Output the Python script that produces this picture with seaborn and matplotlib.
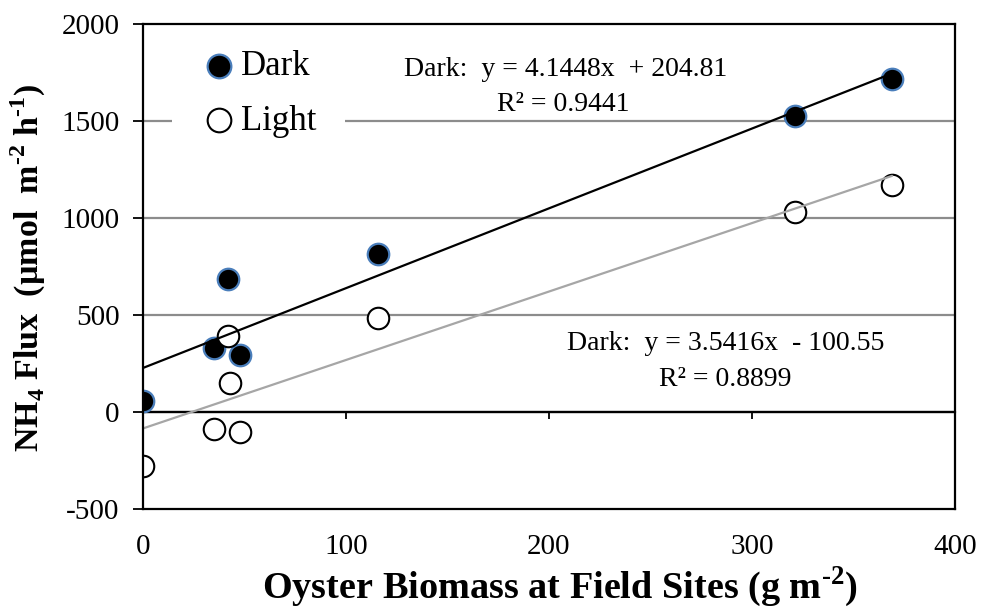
import numpy as np
import pandas as pd
import matplotlib
matplotlib.use("Agg")
import matplotlib.pyplot as plt
import seaborn as sns

# ---- data ----
dark_x = [0, 35, 42, 48, 116, 321, 369]
dark_y = [55, 328, 686, 292, 814, 1527, 1717]
light_x = [0, 35, 42, 43, 48, 116, 321, 369]
light_y = [-278, -88, 390, 150, -102, 485, 1031, 1171]

dark_eq = "Dark:  y = 4.1448x  + 204.81"
dark_r2 = "R² = 0.9441"
light_eq = "Dark:  y = 3.5416x  - 100.55"
light_r2 = "R² = 0.8899"

x_ticks = [0, 100, 200, 300, 400]
y_ticks = [-500, 0, 500, 1000, 1500, 2000]

dark_df = pd.DataFrame({"x": dark_x, "y": dark_y})
light_df = pd.DataFrame({"x": light_x, "y": light_y})

sns.set_style("white")
plt.rcParams["font.family"] = ["Liberation Serif", "DejaVu Serif"]
plt.rcParams["mathtext.fontset"] = "custom"
plt.rcParams["mathtext.rm"] = "Liberation Serif"
plt.rcParams["mathtext.bf"] = "Liberation Serif:bold"
plt.rcParams["text.color"] = "black"
plt.rcParams["axes.labelcolor"] = "black"
plt.rcParams["xtick.color"] = "black"
plt.rcParams["ytick.color"] = "black"

fig = plt.figure(figsize=(9.82, 6.14), dpi=100)
ax = fig.add_axes([143 / 982, 1 - 509 / 614, (955 - 143) / 982, (509 - 24) / 614])

# gridlines
for v in [500, 1000, 1500]:
    ax.axhline(v, color="#8c8c8c", lw=1.6, zorder=0)
ax.axhline(0, color="black", lw=1.6, zorder=1)

# scatter points
sns.scatterplot(data=dark_df, x="x", y="y", ax=ax, s=240, color="black",
                edgecolor="#4a7ebb", linewidth=1.6, label="Dark", zorder=3)
sns.scatterplot(data=light_df, x="x", y="y", ax=ax, s=240, color="white",
                edgecolor="black", linewidth=1.5, label="Light", zorder=3)

# trend lines
sns.regplot(data=dark_df, x="x", y="y", ax=ax, scatter=False, ci=None, truncate=True,
            line_kws=dict(color="black", lw=1.6, zorder=4))
sns.regplot(data=light_df, x="x", y="y", ax=ax, scatter=False, ci=None, truncate=True,
            line_kws=dict(color="#a6a6a6", lw=1.6, zorder=4))

ax.set_xlim(0, 400)
ax.set_ylim(-500, 2000)
ax.set_xticks(x_ticks)
ax.set_yticks(y_ticks)
ax.set_xticklabels([str(t) for t in x_ticks], fontsize=21)
ax.set_yticklabels([str(t) for t in y_ticks], fontsize=21)
ax.tick_params(axis="x", length=0, pad=18)
ax.tick_params(axis="y", direction="out", length=7, width=1.3, pad=10, left=True)
for sp in ax.spines.values():
    sp.set_visible(True)
    sp.set_color("black")
    sp.set_linewidth(1.6)
    sp.set_zorder(6)

# tick marks on the zero line
sec = ax.secondary_xaxis(0.2)
sec.set_xticks([100, 200, 300])
sec.set_xticklabels([])
sec.tick_params(direction="out", length=5, width=1.3, bottom=True)
sec.spines["bottom"].set_linewidth(1.6)

ax.set_xlabel("Oyster Biomass at Field Sites (g m$^{\\mathbf{\u20102}}$)", fontsize=27.5,
              fontweight="bold")
ax.xaxis.set_label_coords(0.5135, -0.115)
ax.set_ylabel("NH$_{\\mathbf{4}}$ Flux  (µmol  m$^{\\mathbf{\u20102}}$ h$^{\\mathbf{\u20101}}$)",
              fontsize=24.5, fontweight="bold")
ax.yaxis.set_label_coords(-0.117, 0.497)

# equation annotations
ax.text(208, 1765, dark_eq, fontsize=20, ha="center", va="center")
ax.text(207, 1585, dark_r2, fontsize=20, ha="center", va="center")
ax.text(287, 355, light_eq, fontsize=20, ha="center", va="center")
ax.text(287, 165, light_r2, fontsize=20, ha="center", va="center")

leg = ax.legend(loc="upper left", bbox_to_anchor=(0.0357, 1.0035), fontsize=25,
                frameon=True, facecolor="white", edgecolor="none", framealpha=1,
                handletextpad=0.1, labelspacing=0.62, borderpad=0.8, handlelength=1.1,
                borderaxespad=0, markerscale=1.1)
leg.set_zorder(5)

fig.savefig("out.png", dpi=100)
